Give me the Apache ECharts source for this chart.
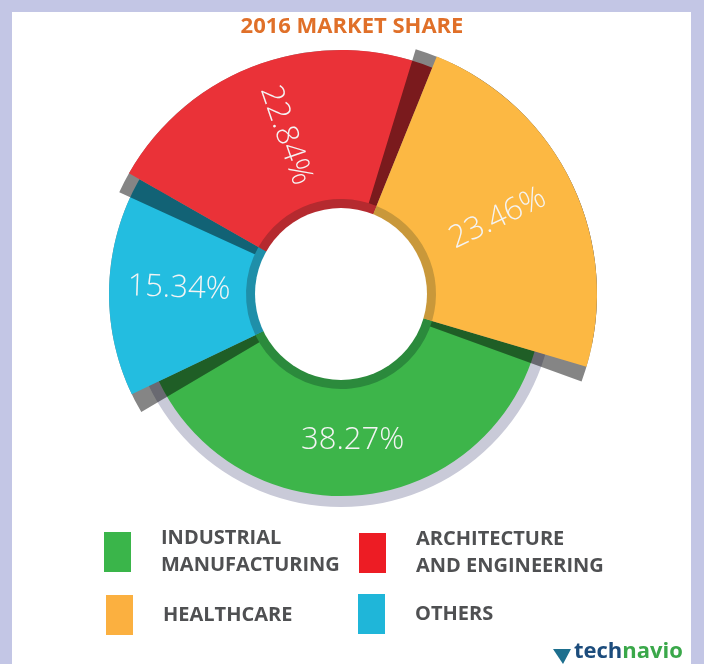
<!DOCTYPE html>
<html>
<head>
<meta charset="utf-8">
<script src="https://cdn.jsdelivr.net/npm/echarts@6/dist/echarts.min.js"></script>
<style>
  html, body { margin: 0; padding: 0; background: #c3c6e5; }
  #chart { width: 704px; height: 664px; }
</style>
</head>
<body>
<div id="chart"></div>
<script>
// slices in clockwise order, starting at the healthcare / industrial edge
const names = ['INDUSTRIAL\nMANUFACTURING', 'OTHERS', 'ARCHITECTURE\nAND ENGINEERING', 'HEALTHCARE']
const values = [38.27, 15.34, 22.84, 23.46]

// styles
const colors = ['#3db54a', '#23bde0', '#ea3238', '#fcb843']
const darkColors = ['#2b8a3c', '#1f8fa9', '#b52a2f', '#c9983a']
const legendColors = ['#3ab54a', '#1fb6d9', '#ed1c24', '#fbb040']
const outerRadius = [202, 232, 244, 256]
// legend square position for each slice
const legendPos = [[104, 532], [358, 594], [359, 533], [106, 595]]
const center = [341, 294]
const startAngle = -16.5
const shade = 'rgba(0,0,0,0.48)'

const chart = echarts.init(document.getElementById('chart'))

// one pie per slice so each can have its own outer radius;
// the other slices stay in the data (transparent) to keep the angles
function sliceSeries(i) {
  return {
    type: 'pie',
    silent: true,
    animation: false,
    avoidLabelOverlap: false,
    center: center,
    radius: [86, outerRadius[i]],
    startAngle: startAngle,
    labelLine: { show: false },
    data: names.map((n, j) => ({
      name: n,
      value: values[j],
      itemStyle: { color: j === i ? colors[i] : 'rgba(0,0,0,0)' },
      label: j === i ? {
        show: true,
        position: 'inside',
        rotate: i === 0 ? 0 : 'radial',
        formatter: '{c}%',
        color: '#f4f4f4',
        fontFamily: 'Open Sans',
        fontWeight: 300,
        fontSize: 31
      } : { show: false }
    }))
  }
}

// the same slice turned a few degrees, as a dark shadow on its neighbour
function shadowSeries(i, turn) {
  return {
    type: 'pie',
    silent: true,
    animation: false,
    center: center,
    radius: [86, outerRadius[i]],
    startAngle: startAngle + turn,
    label: { show: false },
    labelLine: { show: false },
    data: names.map((n, j) => ({
      name: n,
      value: values[j],
      itemStyle: { color: j === i ? shade : 'rgba(0,0,0,0)' }
    }))
  }
}

const legendText = {
  fontFamily: 'Open Sans',
  fontWeight: 'bold',
  fontSize: 20,
  color: '#4f5052',
  lineHeight: 27,
  padding: [0, 0, 0, 25]
}

const legends = names.map((n, i) => ({
  left: legendPos[i][0],
  top: legendPos[i][1] - (n.indexOf('\n') > -1 ? 7 : 0),
  padding: 0,
  icon: 'rect',
  itemWidth: 27,
  itemHeight: 40,
  selectedMode: false,
  data: [{ name: n, itemStyle: { color: legendColors[i] } }],
  textStyle: legendText
}))

const option = {
  backgroundColor: '#c3c6e5',
  title: {
    text: '2016 MARKET SHARE',
    left: 'center',
    top: 11,
    textStyle: { color: '#e07029', fontSize: 22, fontWeight: 'bold', fontFamily: 'Open Sans' }
  },
  legend: legends,
  graphic: [
    { type: 'rect', z: -10, shape: { x: 12, y: 12, width: 679, height: 660 }, style: { fill: '#ffffff' } },
    { type: 'polygon', shape: { points: [[553, 649], [571, 649], [563, 664]] }, style: { fill: '#1d6f8e' } },
    {
      type: 'text', left: 574, top: 641,
      style: {
        text: '{a|tech}{b|navio}',
        rich: {
          a: { fontFamily: 'Open Sans', fontWeight: 'bold', fontSize: 22, fill: '#1c4c7c' },
          b: { fontFamily: 'Open Sans', fontWeight: 'bold', fontSize: 22, fill: '#3aa84a' }
        }
      }
    }
  ],
  series: [
    // pale ring behind the big slice
    {
      type: 'pie', silent: true, animation: false, center: center, radius: [196, 213],
      label: { show: false }, labelLine: { show: false },
      data: [{ value: 1, itemStyle: { color: '#c9cad8' } }]
    },
    sliceSeries(0),
    shadowSeries(1, 5),
    sliceSeries(1),
    shadowSeries(2, 5),
    sliceSeries(2),
    shadowSeries(3, 5),
    shadowSeries(3, -3.5),
    sliceSeries(3),
    // darker inner rim
    {
      type: 'pie', silent: true, animation: false, center: center, radius: [84, 95],
      startAngle: startAngle,
      label: { show: false }, labelLine: { show: false },
      data: names.map((n, j) => ({ name: n, value: values[j], itemStyle: { color: darkColors[j] } }))
    },
    // hole
    {
      type: 'pie', silent: true, animation: false, center: center, radius: [0, 86],
      label: { show: false }, labelLine: { show: false },
      data: [{ value: 1, itemStyle: { color: '#ffffff' } }]
    }
  ]
}

chart.setOption(option)
</script>
</body>
</html>
